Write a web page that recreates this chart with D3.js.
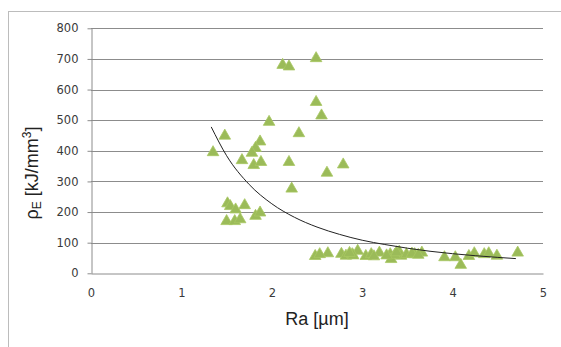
<!DOCTYPE html>
<html><head><meta charset="utf-8">
<script src="https://cdn.jsdelivr.net/npm/d3@7"></script>
<style>body{margin:0;background:#fff}svg{display:block}</style>
</head><body>
<script>
// Data
const raValues = [1.35,1.48,2.12,2.19,2.49,2.49,2.55,1.97,2.30,1.87,1.82,1.78,1.67,1.80,1.88,2.19,2.79,2.61,2.22,1.51,1.54,1.60,1.70,1.50,1.59,1.65,1.82,1.87,
  2.48,2.62,2.77,2.82,2.89,2.95,3.04,3.10,3.19,3.31,3.32,3.41,3.43,3.49,3.58,3.66,3.91,4.03,4.09,4.18,4.24,4.35,4.40,4.49,4.72,
  2.53,2.90,3.13,3.36,3.55,3.62,3.38,3.27,2.86];
const rhoValues = [395,449,680,675,702,559,515,494,457,430,409,393,369,353,363,363,355,328,276,228,219,208,222,170,170,176,187,198,
  56,65,63,57,62,73,56,62,67,62,46,70,57,62,62,67,52,52,27,56,65,62,65,57,67,
  62,58,55,60,64,60,68,58,66];
const trendRa  = [1.33,1.5,1.75,2.0,2.25,2.5,2.75,3.0,3.25,3.5,3.75,4.0,4.25,4.5,4.7];
const trendRho = [478,384,290,227,183,151,127,108,94,82,72,64,57.5,52,48];
const xTicks = [0,1,2,3,4,5];
const yTicks = [0,100,200,300,400,500,600,700,800];

const W = 561, H = 347;
const svg = d3.select("body").append("svg").attr("width", W).attr("height", H);

// chart frame
svg.append("rect").attr("x", 8.5).attr("y", 11.5).attr("width", 700).attr("height", 500)
  .attr("fill", "#fff").attr("stroke", "#bcbcbc").attr("stroke-width", 1);

const x = d3.scaleLinear().domain([0, 5]).range([91, 543]);
const y = d3.scaleLinear().domain([0, 800]).range([273.3, 28.3]);

// gridlines
svg.append("g").selectAll("line").data(yTicks.filter(d => d > 0)).join("line")
  .attr("x1", x(0)).attr("x2", x(5))
  .attr("y1", d => Math.round(y(d)) + 0.5).attr("y2", d => Math.round(y(d)) + 0.5)
  .attr("stroke", "#8c8c8c").attr("stroke-width", 1);

// y axis
const yAxis = svg.append("g").attr("transform", `translate(${Math.round(x(0)) + 0.5},0)`)
  .call(d3.axisLeft(y).tickValues(yTicks).tickFormat(d3.format("d")).tickSize(4).tickPadding(9).tickSizeOuter(0));
yAxis.select(".domain").attr("stroke", "#8c8c8c");
yAxis.selectAll(".tick line").attr("stroke", "#8c8c8c");
yAxis.selectAll(".tick text").attr("font-family", "DejaVu Sans").attr("font-size", 11.5).attr("fill", "#3a3a3a");

// x axis
const xAxis = svg.append("g").attr("transform", `translate(0,${Math.round(y(0)) + 0.5})`)
  .call(d3.axisBottom(x).tickValues(xTicks).tickFormat(d3.format("d")).tickSize(0).tickPadding(15).tickSizeOuter(0));
xAxis.select(".domain").attr("stroke", "#8c8c8c");
xAxis.selectAll(".tick text").attr("font-family", "DejaVu Sans").attr("font-size", 11.5).attr("fill", "#3a3a3a");

// points
const tri = d3.symbol(d3.symbolTriangle, 58);
svg.append("g").selectAll("path").data(raValues.map((r, i) => [r, rhoValues[i]])).join("path")
  .attr("d", tri)
  .attr("transform", d => `translate(${x(d[0])},${y(d[1])})`)
  .attr("fill", "#9bbb59").attr("stroke", "#a8c862").attr("stroke-width", 0.8);

// trend line
const line = d3.line().x(d => x(d[0])).y(d => y(d[1])).curve(d3.curveMonotoneX);
svg.append("path").datum(trendRa.map((r, i) => [r, trendRho[i]]))
  .attr("d", line).attr("fill", "none").attr("stroke", "#222").attr("stroke-width", 1);

// axis titles
svg.append("text").attr("x", 317).attr("y", 325).attr("text-anchor", "middle")
  .attr("font-family", "Liberation Sans").attr("font-size", 18).attr("fill", "#222")
  .text("Ra [µm]");

const yt = svg.append("text").attr("transform", "translate(38,173) rotate(-90)")
  .attr("text-anchor", "middle").attr("font-family", "Liberation Sans").attr("font-size", 18).attr("fill", "#222");
yt.append("tspan").text("ρ");
yt.append("tspan").attr("font-size", 12).attr("dy", 3).text("E");
yt.append("tspan").attr("dy", -3).text(" [kJ/mm");
yt.append("tspan").attr("font-size", 12).attr("dy", -7).text("3");
yt.append("tspan").attr("dy", 7).text("]");
</script>
</body></html>
